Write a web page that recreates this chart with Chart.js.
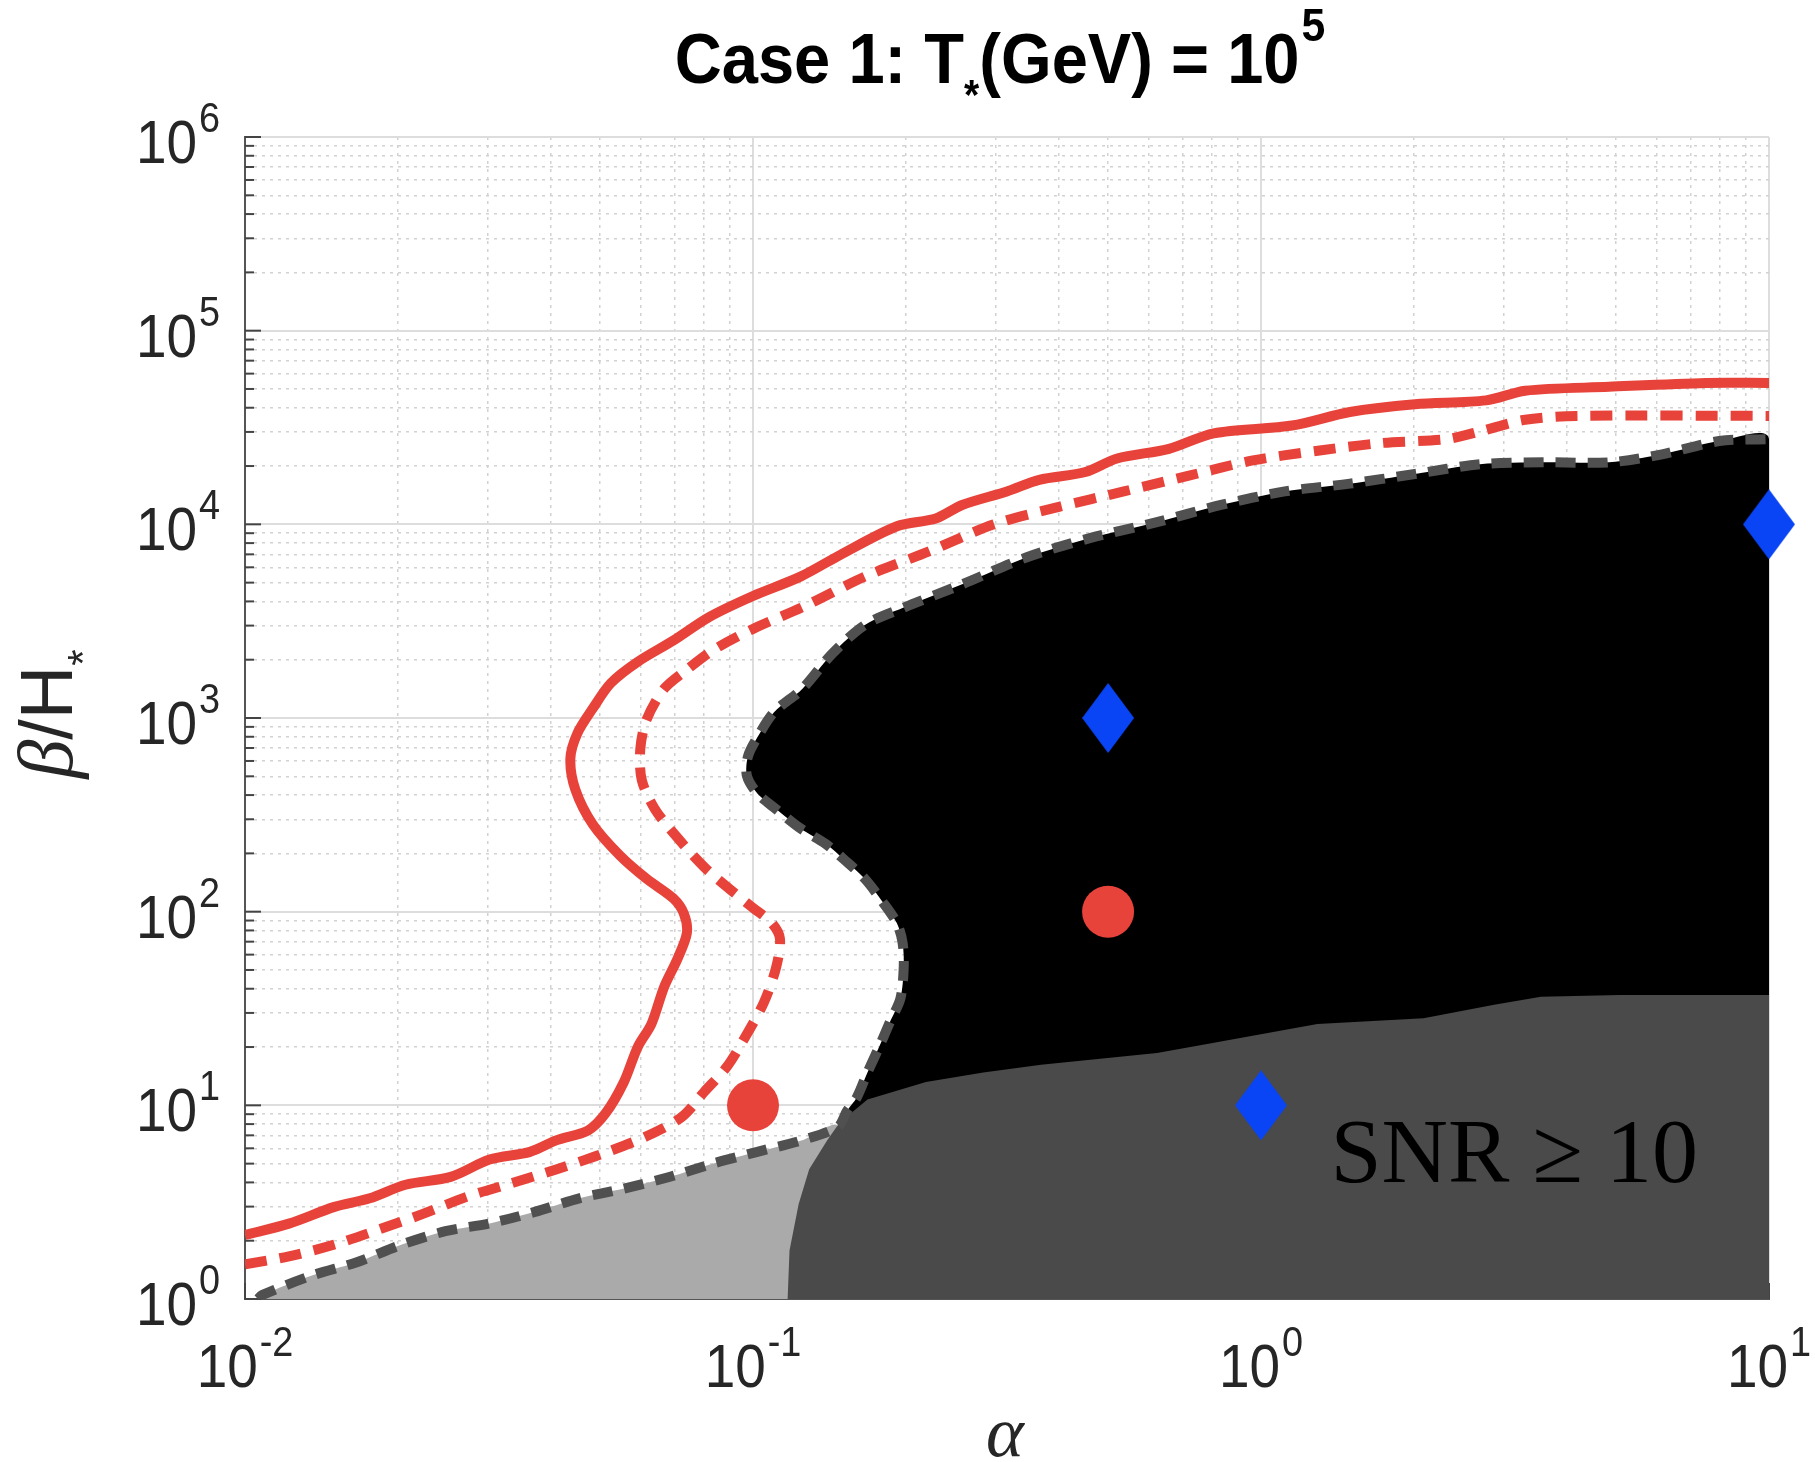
<!DOCTYPE html>
<html>
<head>
<meta charset="utf-8">
<title>Case 1: SNR contours</title>
<script src="https://cdn.jsdelivr.net/npm/chart.js@4.4.1/dist/chart.umd.min.js"></script>
<style>
  html, body { margin: 0; padding: 0; background: #ffffff; }
  #wrap { width: 1815px; height: 1462px; }
</style>
</head>
<body>
<div id="wrap"><canvas id="snr" width="1815" height="1462"></canvas></div>
<script>
// axis ranges (alpha horizontal, beta/H vertical), decade exponents used as tick labels
const alphaRange = [0.01, 10];
const betaRange = [1, 1e6];
const alphaTickExps = [-2, -1, 0, 1];
const betaTickExps = [0, 1, 2, 3, 4, 5, 6];

// solid red contour
const redSolidAlpha = [0.01, 0.0122, 0.0150, 0.0176, 0.0207, 0.0254, 0.0303, 0.0364, 0.0411, 0.0473,
  0.0513, 0.0557, 0.0593, 0.0631, 0.0668, 0.0711, 0.0741, 0.0731, 0.0697, 0.0617,
  0.0547, 0.0484, 0.0447, 0.0437, 0.0451, 0.0484, 0.0525, 0.0593, 0.0697, 0.0818,
  0.100, 0.124, 0.148, 0.192, 0.229, 0.258, 0.316, 0.366, 0.451, 0.521,
  0.659, 0.807, 1.151, 1.496, 2.009, 2.773, 3.311, 4.842, 7.516, 10];
const redSolidBeta = [2.14, 2.45, 2.99, 3.31, 3.89, 4.27, 5.25, 5.75, 6.61, 7.41,
  9.12, 13.2, 20.0, 26.3, 40.7, 57.5, 77.6, 97.7, 117, 148,
  195, 282, 427, 617, 832, 1122, 1514, 1950, 2512, 3311,
  4266, 5370, 6918, 9772, 10715, 12589, 14791, 16982, 18621, 21878,
  24547, 29512, 32359, 38019, 41687, 43652, 48978, 51286, 53703, 53703];

// dashed red contour
const redDashAlpha = [0.01, 0.0122, 0.0150, 0.0184, 0.0224, 0.0275, 0.0337, 0.0411, 0.0505, 0.0617,
  0.0724, 0.0802, 0.0889, 0.0964, 0.105, 0.111, 0.113, 0.109, 0.100, 0.0906,
  0.0802, 0.0711, 0.0641, 0.0604, 0.0600, 0.0617, 0.0668, 0.0741, 0.0834, 0.100,
  0.127, 0.166, 0.222, 0.298, 0.400, 0.537, 0.718, 0.964, 1.294, 1.730,
  2.323, 2.698, 3.311, 4.188, 10];
const redDashBeta = [1.51, 1.66, 1.91, 2.29, 2.75, 3.39, 3.98, 4.68, 5.62, 6.92,
  8.71, 11.75, 15.85, 22.39, 33.88, 51.29, 72.44, 87.10, 104.7, 128.8,
  169.8, 239.9, 338.8, 478.6, 691.8, 977.2, 1413, 1778, 2239, 2884,
  3802, 5370, 7244, 10000, 12303, 14791, 17783, 21380, 23988, 26303,
  27542, 30200, 34674, 36308, 36308];

// dashed grey boundary (top of light grey region, then edge of black region)
const edgeAlpha = [0.0106, 0.0108, 0.0135, 0.0166, 0.0203, 0.0248, 0.0303, 0.0372, 0.0455, 0.0557,
  0.0684, 0.0836, 0.102, 0.125, 0.147, 0.153, 0.160, 0.168, 0.177, 0.186,
  0.195, 0.198, 0.197, 0.192, 0.180, 0.166, 0.151, 0.139, 0.124, 0.111,
  0.102, 0.0973, 0.0977, 0.102, 0.110, 0.125, 0.143, 0.166, 0.198, 0.258,
  0.346, 0.462, 0.621, 0.834, 1.114, 1.496, 2.009, 2.698, 3.606, 4.842,
  6.124, 7.980, 10];
const edgeBeta = [1.00, 1.047, 1.318, 1.549, 1.905, 2.239, 2.455, 2.818, 3.311, 3.715,
  4.266, 5.012, 5.754, 6.607, 7.762, 9.333, 10.96, 14.79, 19.95, 26.92,
  35.48, 51.29, 69.18, 87.10, 112.2, 147.9, 186.2, 223.9, 269.2, 338.8,
  407.4, 501.2, 631.0, 794.3, 1072, 1413, 2138, 3020, 3715, 4898,
  6761, 8511, 10233, 12589, 14791, 16218, 18197, 20417, 20893, 20893,
  22909, 26915, 27542];
const edgeJunction = 14; // where the light grey edge meets the black region

// closing corners of the filled regions
const lightCloseAlpha = [0.147];
const lightCloseBeta = [1];
const blackCloseAlpha = [10, 0.147];
const blackCloseBeta = [1, 1];

// dark grey region (SNR >= 10), outline incl. closing corner
const darkAlpha = [0.117, 0.118, 0.123, 0.129, 0.140, 0.148, 0.168, 0.219, 0.284, 0.369,
  0.624, 0.759, 1.291, 2.089, 2.877, 3.556, 5.082, 10, 10];
const darkBeta = [1, 1.78, 3.09, 4.68, 6.61, 8.13, 10.72, 13.18, 14.79, 16.22,
  18.62, 20.42, 26.30, 28.18, 33.11, 36.31, 37.15, 37.15, 1];

// benchmark points
const redDotAlpha = [0.1, 0.5];
const redDotBeta = [10, 100];
const blueDiamondAlpha = [0.5, 10, 1];
const blueDiamondBeta = [1000, 10000, 10];

// annotation
const snrText = 'SNR \u2265 10';
const snrAlpha = 1.37;
const snrBeta = 4.0;

const RED = '#e8433a';
const BLUE = '#0a45f5';

const pts = (xs, ys) => xs.map((x, i) => ({ x: x, y: ys[i] }));
const isDecade = v => Math.abs(Math.log10(v) - Math.round(Math.log10(v))) < 1e-6;

function logTicks(scale) {
    const lo = Math.round(Math.log10(scale.min));
    const hi = Math.round(Math.log10(scale.max));
    const ticks = [];
    for (let e = lo; e <= hi; e++) {
        ticks.push({ value: Math.pow(10, e) });
        if (e < hi) {
            for (let m = 2; m <= 9; m++) ticks.push({ value: m * Math.pow(10, e) });
        }
    }
    scale.ticks = ticks;
}

function diamond(w, h, color) {
    const c = document.createElement('canvas');
    c.width = w; c.height = h;
    const g = c.getContext('2d');
    g.fillStyle = color;
    g.beginPath();
    g.moveTo(w / 2, 0); g.lineTo(w, h / 2); g.lineTo(w / 2, h); g.lineTo(0, h / 2);
    g.closePath();
    g.fill();
    return c;
}

// draw a run of text pieces (for superscripts/subscripts), anchored at x by align
function drawRun(ctx, parts, x, y, align, sx) {
    sx = sx || 1;
    let total = 0;
    const widths = parts.map(p => { ctx.font = p.f; const w = ctx.measureText(p.t).width * sx + (p.gap || 0); total += w; return w; });
    let cx = align === 'center' ? x - total / 2 : align === 'right' ? x - total : x;
    ctx.textAlign = 'left';
    ctx.textBaseline = 'alphabetic';
    parts.forEach((p, i) => {
        ctx.font = p.f;
        ctx.save();
        ctx.translate(cx + (p.gap || 0), y + (p.dy || 0));
        ctx.scale(sx, 1);
        ctx.fillText(p.t, 0, 0);
        ctx.restore();
        cx += widths[i];
    });
}

const gridColor = c => (c.tick && isDecade(c.tick.value)) ? '#dddddd' : '#d2d2d2';
const gridWidth = c => (c.tick && isDecade(c.tick.value)) ? 2 : 1.5;
const gridDash = c => (c.tick && !isDecade(c.tick.value)) ? [3, 5] : [];

const decor = {
    id: 'decor',
    beforeDatasetsDraw(chart) {
        // inward tick marks on left and bottom axes
        const { ctx, chartArea: a, scales: { x, y } } = chart;
        ctx.save();
        ctx.strokeStyle = '#444444';
        ctx.lineWidth = 2;
        x.ticks.forEach(t => {
            const px = x.getPixelForValue(t.value);
            const len = isDecade(t.value) ? 16 : 9;
            ctx.beginPath(); ctx.moveTo(px, a.bottom); ctx.lineTo(px, a.bottom - len); ctx.stroke();
        });
        y.ticks.forEach(t => {
            const py = y.getPixelForValue(t.value);
            const len = isDecade(t.value) ? 16 : 9;
            ctx.beginPath(); ctx.moveTo(a.left, py); ctx.lineTo(a.left + len, py); ctx.stroke();
        });
        ctx.restore();
    },
    afterDraw(chart) {
        const { ctx, chartArea: a, scales: { x, y } } = chart;
        ctx.save();
        ctx.fillStyle = '#262626';
        const big = '61px "Liberation Sans"';
        const small = '42px "Liberation Sans"';
        alphaTickExps.forEach(e => {
            const px = x.getPixelForValue(Math.pow(10, e));
            drawRun(ctx, [{ t: '10', f: big }, { t: String(e), f: small, dy: -31, gap: 2 }],
                px, a.bottom + 88, 'center', 0.9);
        });
        betaTickExps.forEach(e => {
            const py = y.getPixelForValue(Math.pow(10, e));
            drawRun(ctx, [{ t: '10', f: big }, { t: String(e), f: small, dy: -31, gap: 2 }],
                a.left - 25, py + 26, 'right', 0.9);
        });

        // title
        ctx.fillStyle = '#000000';
        drawRun(ctx, [
            { t: 'Case 1: T', f: 'bold 70px "Liberation Sans"' },
            { t: '*', f: 'bold 42px "Liberation Sans"', dy: 26 },
            { t: '(GeV) = 10', f: 'bold 70px "Liberation Sans"' },
            { t: '5', f: 'bold 46px "Liberation Sans"', dy: -42, gap: 2 }
        ], (a.left + a.right) / 2 - 7, a.top - 54, 'center', 0.93);

        // x axis label
        ctx.fillStyle = '#262626';
        drawRun(ctx, [{ t: '\u03b1', f: 'italic 72px "Liberation Serif"' }],
            (a.left + a.right) / 2 - 2, a.bottom + 157, 'center');

        // y axis label
        ctx.save();
        ctx.translate(a.left - 173, (a.top + a.bottom) / 2 - 4);
        ctx.rotate(-Math.PI / 2);
        drawRun(ctx, [
            { t: '\u03b2', f: 'italic 78px "Liberation Serif"' },
            { t: '/H', f: '74px "Liberation Sans"' },
            { t: '*', f: '42px "Liberation Sans"', dy: 25 }
        ], 0, 0, 'center');
        ctx.restore();

        // annotation inside the dark region
        ctx.fillStyle = '#000000';
        drawRun(ctx, [{ t: snrText, f: '92px "Liberation Serif"' }],
            x.getPixelForValue(snrAlpha), y.getPixelForValue(snrBeta), 'left');
        ctx.restore();
    }
};

const region = (data, color, order, tension) => ({
    data: data, showLine: true, fill: 'shape', backgroundColor: color,
    borderWidth: 0, pointRadius: 0, tension: tension, order: order
});
const contour = (data, color, width, dash, order) => ({
    data: data, showLine: true, fill: false, borderColor: color, borderWidth: width,
    borderDash: dash, pointRadius: 0, tension: 0.3, order: order
});

const ctx = document.getElementById('snr').getContext('2d');
new Chart(ctx, {
    type: 'scatter',
    data: {
        datasets: [
            {
                data: pts(redDotAlpha, redDotBeta), pointStyle: 'circle', pointRadius: 26,
                backgroundColor: RED, borderWidth: 0, showLine: false, clip: false, order: 0
            },
            {
                data: pts(blueDiamondAlpha, blueDiamondBeta), pointStyle: diamond(52, 70, BLUE), pointRadius: 26,
                backgroundColor: BLUE, borderWidth: 0, showLine: false, clip: false, order: 0
            },
            contour(pts(redSolidAlpha, redSolidBeta), RED, 10, [], 1),
            contour(pts(redDashAlpha, redDashBeta), RED, 10, [22, 13], 2),
            contour(pts(edgeAlpha, edgeBeta), '#505050', 10, [20, 12], 3),
            region(pts(darkAlpha, darkBeta), '#4a4a4a', 4, 0),
            region(pts(edgeAlpha.slice(edgeJunction).concat(blackCloseAlpha),
                       edgeBeta.slice(edgeJunction).concat(blackCloseBeta)), '#000000', 5, 0.3),
            region(pts(edgeAlpha.slice(0, edgeJunction + 1).concat(lightCloseAlpha),
                       edgeBeta.slice(0, edgeJunction + 1).concat(lightCloseBeta)), '#aaaaaa', 6, 0.3)
        ]
    },
    options: {
        responsive: false,
        devicePixelRatio: 1,
        animation: false,
        events: [],
        layout: { padding: { left: 245, right: 46, top: 137, bottom: 163 } },
        plugins: { legend: { display: false }, tooltip: { enabled: false }, title: { display: false } },
        scales: {
            x: {
                type: 'logarithmic', min: alphaRange[0], max: alphaRange[1],
                afterBuildTicks: logTicks,
                ticks: { display: false, autoSkip: false },
                grid: { color: gridColor, lineWidth: gridWidth, drawTicks: false },
                border: { display: true, color: '#555555', width: 2, dash: gridDash }
            },
            y: {
                type: 'logarithmic', min: betaRange[0], max: betaRange[1],
                afterBuildTicks: logTicks,
                ticks: { display: false, autoSkip: false },
                grid: { color: gridColor, lineWidth: gridWidth, drawTicks: false },
                border: { display: true, color: '#555555', width: 2, dash: gridDash }
            }
        }
    },
    plugins: [decor]
});
</script>
</body>
</html>
